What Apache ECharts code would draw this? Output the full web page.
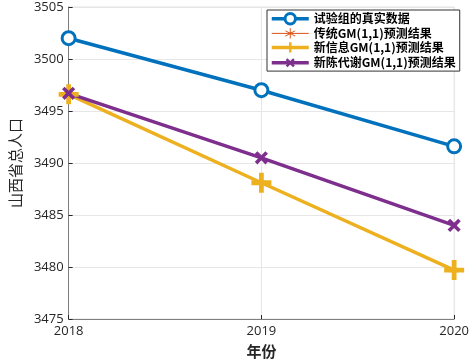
<!DOCTYPE html>
<html>
<head>
<meta charset="utf-8">
<script src="https://cdn.jsdelivr.net/npm/echarts@6/dist/echarts.min.js"></script>
<style>
  html, body { margin: 0; padding: 0; background: #fff; }
</style>
</head>
<body>
<div id="main" style="width: 472px;height:364px;"></div>
<script>
// 年份
var years = ['2018', '2019', '2020']
// 各组数据
var shiyan = [3502.0, 3497.0, 3491.6]
var chuantong = [3496.6, 3488.1, 3479.7]
var xinxinxi = [3496.6, 3488.1, 3479.7]
var xinchendaixie = [3496.7, 3490.5, 3484.0]
var names = ['试验组的真实数据', '传统GM(1,1)预测结果', '新信息GM(1,1)预测结果', '新陈代谢GM(1,1)预测结果']

var cjk = 'Noto Sans CJK SC'
var plusPath = 'path://M3.8,0H6.2V3.8H10V6.2H6.2V10H3.8V6.2H0V3.8H3.8Z'
var starPath = 'path://M4.6,0H5.4V4.2L8.8,2.1L9.2,2.8L5.8,5L9.2,7.2L8.8,7.9L5.4,5.8V10H4.6V5.8L1.2,7.9L0.8,7.2L4.2,5L0.8,2.8L1.2,2.1L4.6,4.2Z'

var myChart = echarts.init(document.getElementById('main'))
var option = {
  animation: false,
  grid: {
    left: 57,
    right: 15,
    top: 7,
    bottom: 43,
    show: true,
    borderColor: '#e3e3e3',
    borderWidth: 1
  },
  legend: {
    orient: 'vertical',
    left: 267,
    top: 10,
    padding: [2, 4, 1, 3],
    itemGap: 2,
    itemWidth: 37,
    itemHeight: 13,
    backgroundColor: '#fff',
    borderColor: '#333',
    borderWidth: 1,
    borderRadius: 0,
    textStyle: { fontFamily: cjk, fontWeight: 'bold', fontSize: 12, color: '#000' },
    data: [
      { name: names[0], itemStyle: { borderWidth: 3 }, lineStyle: { width: 3.5 } },
      { name: names[1], lineStyle: { width: 1 } },
      { name: names[2], lineStyle: { width: 3.5 } },
      { name: names[3], lineStyle: { width: 3.5 } }
    ]
  },
  xAxis: {
    type: 'category',
    data: years,
    boundaryGap: false,
    name: '年份',
    nameLocation: 'middle',
    nameGap: 25,
    nameTextStyle: { fontFamily: cjk, fontWeight: 'bold', fontSize: 15, color: '#262626' },
    axisLine: { lineStyle: { color: '#7f7f7f', width: 1 } },
    axisTick: { inside: true, length: 4, alignWithLabel: true, lineStyle: { color: '#262626' } },
    axisLabel: { color: '#262626', fontSize: 13, fontFamily: 'Open Sans', margin: 6 },
    splitLine: { show: true, lineStyle: { color: '#e6e6e6' } }
  },
  yAxis: {
    type: 'value',
    min: 3475,
    max: 3505,
    interval: 5,
    name: '山西省总人口',
    nameLocation: 'middle',
    nameGap: 43,
    nameTextStyle: { fontFamily: cjk, fontSize: 15, color: '#262626' },
    axisLine: { show: true, lineStyle: { color: '#7f7f7f', width: 1 } },
    axisTick: { show: true, inside: true, length: 4, lineStyle: { color: '#262626' } },
    axisLabel: { color: '#262626', fontSize: 13, fontFamily: 'Open Sans', margin: 5, formatter: function (v) { return String(v) } },
    splitLine: { show: true, lineStyle: { color: '#e6e6e6' } }
  },
  series: [
    {
      name: names[0],
      type: 'line',
      data: shiyan,
      color: '#0072BD',
      lineStyle: { width: 3.5, color: '#0072BD' },
      symbol: 'circle',
      symbolSize: 13,
      itemStyle: { borderWidth: 3, color: '#fff', borderColor: '#0072BD' }
    },
    {
      name: names[1],
      type: 'line',
      data: chuantong,
      color: '#D95319',
      lineStyle: { width: 1 },
      symbol: starPath,
      symbolSize: 8
    },
    {
      name: names[2],
      type: 'line',
      data: xinxinxi,
      color: '#EDB120',
      lineStyle: { width: 3.5 },
      symbol: plusPath,
      symbolSize: 20
    },
    {
      name: names[3],
      type: 'line',
      data: xinchendaixie,
      color: '#7E2F8E',
      lineStyle: { width: 3.5 },
      symbol: plusPath,
      symbolRotate: 45,
      symbolSize: 15
    }
  ]
}
myChart.setOption(option)
</script>
</body>
</html>
